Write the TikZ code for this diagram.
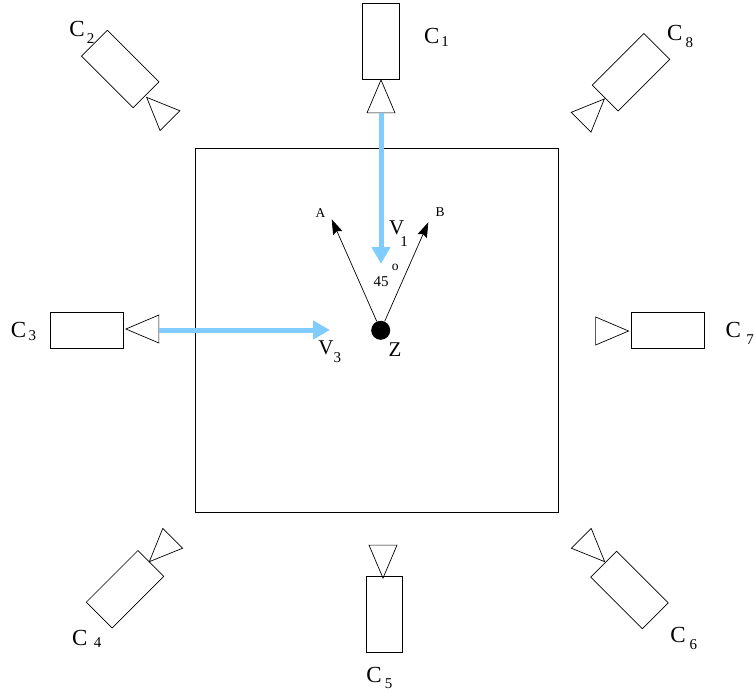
\documentclass[tikz,border=0pt]{standalone}
\usepackage{fontspec}
\setmainfont{Liberation Serif}
\usepackage{xcolor}
\usetikzlibrary{arrows.meta,shapes.geometric}
\definecolor{viewc}{RGB}{128,204,255}
\begin{document}
\begin{tikzpicture}[x=1pt,y=-1pt,>=Latex,line width=0.7pt]
\tikzstyle{cam}=[draw,inner sep=0pt,minimum width=73pt,minimum height=36.5pt]
\tikzstyle{lens}=[draw,isosceles triangle,isosceles triangle apex angle=46,inner sep=0pt,minimum width=28pt,anchor=apex]
\tikzstyle{capc}=[inner sep=0pt,font=\fontsize{23}{23}\selectfont]
\tikzstyle{subc}=[inner sep=0pt,font=\fontsize{15}{15}\selectfont]
\tikzstyle{capv}=[inner sep=0pt,font=\fontsize{21}{21}\selectfont]
\tikzstyle{small}=[inner sep=0pt,font=\fontsize{13.5}{13.5}\selectfont]
\tikzstyle{dir}=[->,>={Stealth[length=15pt,width=10pt,inset=2pt]}]
\tikzstyle{view}=[->,viewc,line width=5pt,>={Triangle[length=17pt,width=18pt]}]
\useasboundingbox (0,0) rectangle (754,691);
\node[draw,inner sep=0pt,minimum width=363pt,minimum height=363.5pt] (room) at (377,330.25) {};
% cameras round the room
\node[cam,minimum width=76pt,rotate=90] (c1) at (380.75,41.5) {};
\node[cam,rotate=-45] (c2) at (120.2,69) {};
\node[cam] (c3) at (87,330.25) {};
\node[cam,rotate=45] (c4) at (125,589.3) {};
\node[cam,minimum width=76pt,rotate=90] (c5) at (384.5,614.75) {};
\node[cam,rotate=-45] (c6) at (629.5,590) {};
\node[cam] (c7) at (667.5,330.25) {};
\node[cam,rotate=45] (c8) at (631,72.2) {};
% lenses, apex on the camera
\node[lens,rotate=90] (t1) at (381,79) {};
\node[lens,rotate=135] (t2) at (146,96.7) {};
\node[lens,rotate=180] (t3) at (125,329) {};
\node[lens,rotate=225] (t4) at (148.7,562.3) {};
\node[lens,rotate=-90] (t5) at (383,579) {};
\node[lens,rotate=-45] (t6) at (605.3,562.3) {};
\node[lens,rotate=0] (t7) at (629.5,331) {};
\node[lens,rotate=45] (t8) at (605,98.3) {};
% camera labels
\node[capc] (l1) at (431.8,36) {C};
\node[subc] (s1) at (445,41.6) {1};
\node[capc] (l2) at (77,28.8) {C};
\node[subc] (s2) at (90.5,39) {2};
\node[capc] (l3) at (18.5,329.7) {C};
\node[subc] (s3) at (32.3,335.7) {3};
\node[capc] (l4) at (79.7,638.3) {C};
\node[subc] (s4) at (97.5,643) {4};
\node[capc] (l5) at (374,675) {C};
\node[subc] (s5) at (388.5,683.5) {5};
\node[capc] (l6) at (678,634.5) {C};
\node[subc] (s6) at (693.3,644.3) {6};
\node[capc] (l7) at (733.2,329.7) {C};
\node[subc] (s7) at (750,340) {7};
\node[capc] (l8) at (674.7,32.8) {C};
\node[subc] (s8) at (689.3,42.3) {8};
% centre point and its two directions
\node[circle,fill=black,inner sep=0pt,minimum size=19pt] (z) at (380.7,330.3) {};
\coordinate (atip) at (331.7,219.3);
\coordinate (btip) at (428.3,222.3);
\draw[dir] (z)--(atip);
\draw[dir] (z)--(btip);
\node[small] (a) at (320.5,213) {A};
\node[small] (b) at (440,212) {B};
\node[small,font=\fontsize{15}{15}\selectfont] (ang) at (381,282) {45};
\node[small] (deg) at (395.3,267.5) {o};
\node[capv] (zl) at (395,350) {Z};
% viewing rays
\coordinate (v1tip) at (381,264);
\coordinate (v3tip) at (330,330);
\draw[view] (t1.lower side)--(v1tip);
\draw[view] (t3.lower side |- v3tip)--(v3tip);
\node[capv] (v1) at (396.7,227.5) {V};
\node[subc] (n1) at (404,242) {1};
\node[capv] (v3) at (326,348) {V};
\node[subc] (n3) at (337.3,358) {3};
\end{tikzpicture}
\end{document}
